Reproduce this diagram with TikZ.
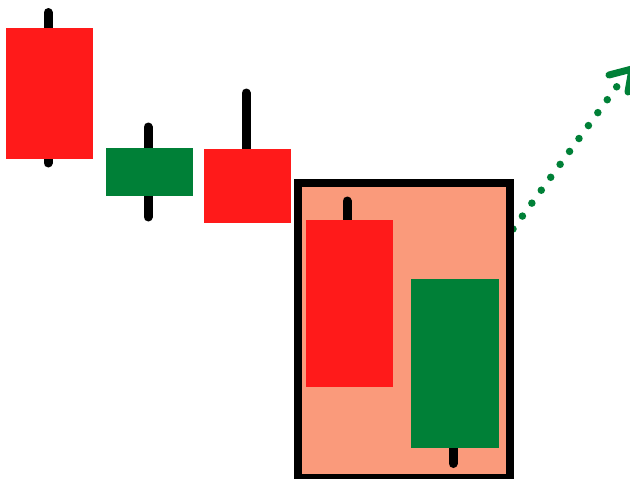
\documentclass[tikz,border=0pt]{standalone}
\usetikzlibrary{arrows.meta}
\definecolor{cred}{RGB}{255,26,26}
\definecolor{cgreen}{RGB}{0,128,55}
\definecolor{csalmon}{RGB}{250,154,123}
\tikzset{
  wick/.style={line width=9pt, line cap=round, black},
  redbody/.style={fill=cred, draw=none},
  greenbody/.style={fill=cgreen, draw=none},
  frame/.style={line width=8pt, draw=black, fill=csalmon},
  trend/.style={line width=7.5pt, cgreen, line cap=round, dash pattern=on 0pt off 16pt},
  trendtip/.style={line width=7pt, cgreen, line cap=round, line join=round}
}
\begin{document}
\begin{tikzpicture}[x=1pt,y=-1pt]
\useasboundingbox (0,0) rectangle (630,479);
% trend arrow
\coordinate (a0) at (513,229);
\coordinate (a1) at (618,85);
\coordinate (tip) at (632,69);
\draw[trend] (a0) -- (a1);
\draw[trendtip] (609,75) -- (tip) -- (628,92);
% highlight frame
\draw[frame] (298,183) rectangle (509.5,478);
% candle 1
\draw[wick] (48,12.5) -- (48,163);
\fill[redbody] (6,28) rectangle (93,159);
% candle 2
\draw[wick] (148,127) -- (148,217);
\fill[greenbody] (106,148) rectangle (193,196);
% candle 3
\draw[wick] (246,93) -- (246,160);
\fill[redbody] (204,149) rectangle (291,223);
% candle 4
\draw[wick] (347,201) -- (347,230);
\fill[redbody] (306,220) rectangle (393,387);
% candle 5
\draw[wick] (453,440) -- (453,463.5);
\fill[greenbody] (411,279) rectangle (499,448);
\end{tikzpicture}
\end{document}
